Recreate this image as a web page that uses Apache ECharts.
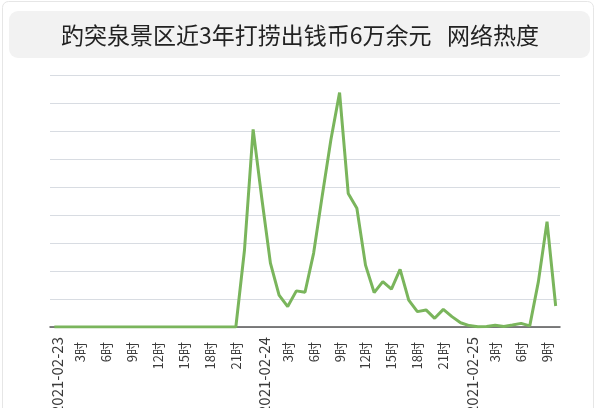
<!DOCTYPE html>
<html>
<head>
<meta charset="utf-8">
<script src="https://cdn.jsdelivr.net/npm/echarts@6/dist/echarts.min.js"></script>
<style>html,body{margin:0;padding:0;background:#fff}#c{width:600px;height:408px}</style>
</head>
<body>
<div id="c"></div>
<script>
const titleText = '趵突泉景区近3年打捞出钱币6万余元   网络热度';
const days = ['2021-02-23', '2021-02-24', '2021-02-25'];
const hoursPerDay = [24, 24, 11];
const heat = [
  0, 0, 0, 0, 0, 0, 0, 0, 0, 0, 0, 0, 0, 0, 0, 0, 0, 0, 0, 0, 0, 0,
  2.75, 7.06, 4.6, 2.28, 1.14, 0.73, 1.29, 1.24, 2.64, 4.7, 6.7, 8.37,
  4.77, 4.24, 2.21, 1.23, 1.62, 1.35, 2.06, 0.96, 0.55, 0.61, 0.31, 0.63,
  0.37, 0.15, 0.05, 0.01, 0.02, 0.06, 0.02, 0.07, 0.13, 0.04, 1.62, 3.76, 0.75
];
const categories = [];
days.forEach((d, k) => {
  for (let h = 0; h < hoursPerDay[k]; h++) categories.push(h === 0 ? d : h + '时');
});

const chart = echarts.init(document.getElementById('c'));
chart.setOption({
  animation: false,
  backgroundColor: '#fff',
  graphic: [
    { type: 'rect', z: -10, shape: { x: 2.5, y: 1.5, width: 591, height: 440, r: 6 },
      style: { fill: '#fff', stroke: '#e6e6e6', lineWidth: 1 } },
    { type: 'rect', shape: { x: 9, y: 11, width: 581, height: 47, r: 9 },
      style: { fill: '#f2f2f2' } },
    { type: 'text', x: 300, y: 35,
      style: { text: titleText, fill: '#222', font: '23px "Noto Sans CJK SC"',
               textAlign: 'center', textVerticalAlign: 'middle' } }
  ],
  grid: { left: 50, right: 40, top: 75, bottom: 81, outerBoundsMode: 'none', containLabel: false },
  xAxis: {
    type: 'category',
    data: categories,
    boundaryGap: true,
    axisTick: { show: false },
    axisLine: { lineStyle: { color: '#555', width: 1.5 } },
    axisLabel: {
      interval: 2,
      rotate: 90,
      margin: 10,
      color: '#3a3a3a',
      fontFamily: 'Noto Sans CJK SC',
      formatter: v => v.indexOf('-') > 0 ? '{d|' + v + '}' : '{h|' + v + '}',
      rich: {
        d: { fontSize: 15, color: '#3a3a3a', fontFamily: 'Noto Sans CJK SC', padding: [6, 0, 0, 0] },
        h: { fontSize: 13, color: '#3a3a3a', fontFamily: 'Noto Sans CJK SC', padding: [0, 5, 0, 0] }
      }
    }
  },
  yAxis: {
    type: 'value',
    min: 0, max: 9, interval: 1,
    axisLabel: { show: false },
    axisLine: { show: false },
    axisTick: { show: false },
    splitLine: { lineStyle: { color: '#d8dce2', width: 1 } }
  },
  series: [{
    type: 'line',
    data: heat,
    symbol: 'none',
    lineStyle: { color: '#7ab55c', width: 3 }
  }]
});
</script>
</body>
</html>
